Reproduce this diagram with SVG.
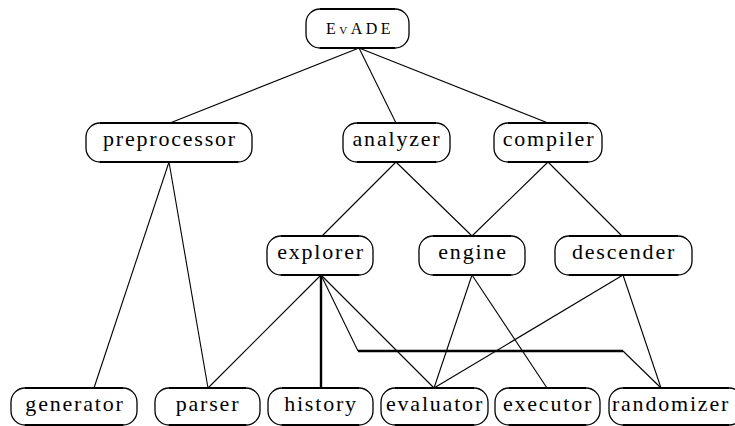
<svg xmlns="http://www.w3.org/2000/svg" width="735" height="426" viewBox="0 0 735 426">
<style>
.box{fill:#fff;stroke:#000;stroke-width:1.3}
.edge{stroke:#000;stroke-width:2.2}
.lbl{font-family:"Liberation Serif","DejaVu Serif",serif;font-size:22px;letter-spacing:1.8px;text-anchor:middle;fill:#000}
.sc{font-size:16px;font-variant:small-caps;letter-spacing:3.5px}
.c{stroke:#000;stroke-width:1.1;fill:none}
.t{stroke:#000;stroke-width:2.4;fill:none}
</style>
<rect width="735" height="426" fill="#fff"/>
<g id="connectors">
<line class="c" x1="359" y1="48" x2="170" y2="123"/>
<line class="c" x1="359" y1="48" x2="396" y2="123"/>
<line class="c" x1="359" y1="48" x2="548" y2="123"/>
<line class="c" x1="396" y1="162" x2="322" y2="236"/>
<line class="c" x1="396" y1="162" x2="472" y2="236"/>
<line class="c" x1="548" y1="162" x2="472" y2="236"/>
<line class="c" x1="548" y1="162" x2="622" y2="236"/>
<line class="c" x1="169" y1="162" x2="94" y2="388"/>
<line class="c" x1="169" y1="162" x2="208" y2="388"/>
<line class="c" x1="321" y1="275" x2="208" y2="388"/>
<line class="t" x1="321" y1="275" x2="321" y2="388"/>
<line class="c" x1="321" y1="275" x2="434" y2="388"/>
<polyline class="c" points="321,275 358,351"/>
<polyline class="t" points="358,351 623,351"/>
<polyline class="c" points="623,351 661,388"/>
<line class="c" x1="472" y1="275" x2="434" y2="388"/>
<line class="c" x1="472" y1="275" x2="547" y2="388"/>
<line class="c" x1="623" y1="275" x2="434" y2="388"/>
<line class="c" x1="623" y1="275" x2="661" y2="388"/>
</g>
<g id="n-evade">
<rect class="box" x="306" y="9" width="103" height="39" rx="14"/>
<line class="edge" x1="320" y1="9" x2="395" y2="9"/><line class="edge" x1="320" y1="48" x2="395" y2="48"/>
<text class="lbl sc" x="360" y="34">EvADE</text>
</g>
<g id="n-preprocessor">
<rect class="box" x="86" y="123" width="166" height="39" rx="14"/>
<line class="edge" x1="100" y1="123" x2="238" y2="123"/><line class="edge" x1="100" y1="162" x2="238" y2="162"/>
<text class="lbl" x="170" y="146">preprocessor</text>
</g>
<g id="n-analyzer">
<rect class="box" x="343" y="123" width="107" height="39" rx="14"/>
<line class="edge" x1="357" y1="123" x2="436" y2="123"/><line class="edge" x1="357" y1="162" x2="436" y2="162"/>
<text class="lbl" x="397" y="146">analyzer</text>
</g>
<g id="n-compiler">
<rect class="box" x="494" y="123" width="108" height="39" rx="14"/>
<line class="edge" x1="508" y1="123" x2="588" y2="123"/><line class="edge" x1="508" y1="162" x2="588" y2="162"/>
<text class="lbl" x="549" y="146">compiler</text>
</g>
<g id="n-explorer">
<rect class="box" x="267" y="236" width="106" height="39" rx="14"/>
<line class="edge" x1="281" y1="236" x2="359" y2="236"/><line class="edge" x1="281" y1="275" x2="359" y2="275"/>
<text class="lbl" x="321" y="259">explorer</text>
</g>
<g id="n-engine">
<rect class="box" x="419" y="236" width="106" height="39" rx="14"/>
<line class="edge" x1="433" y1="236" x2="511" y2="236"/><line class="edge" x1="433" y1="275" x2="511" y2="275"/>
<text class="lbl" x="473" y="259">engine</text>
</g>
<g id="n-descender">
<rect class="box" x="555" y="236" width="137" height="39" rx="14"/>
<line class="edge" x1="569" y1="236" x2="678" y2="236"/><line class="edge" x1="569" y1="275" x2="678" y2="275"/>
<text class="lbl" x="624" y="259">descender</text>
</g>
<g id="n-generator">
<rect class="box" x="11" y="388" width="126" height="37" rx="14"/>
<line class="edge" x1="25" y1="388" x2="123" y2="388"/><line class="edge" x1="25" y1="425" x2="123" y2="425"/>
<text class="lbl" x="75" y="411">generator</text>
</g>
<g id="n-parser">
<rect class="box" x="155" y="388" width="105" height="37" rx="14"/>
<line class="edge" x1="169" y1="388" x2="246" y2="388"/><line class="edge" x1="169" y1="425" x2="246" y2="425"/>
<text class="lbl" x="208" y="411">parser</text>
</g>
<g id="n-history">
<rect class="box" x="268" y="388" width="105" height="37" rx="14"/>
<line class="edge" x1="282" y1="388" x2="359" y2="388"/><line class="edge" x1="282" y1="425" x2="359" y2="425"/>
<text class="lbl" x="321" y="411">history</text>
</g>
<g id="n-evaluator">
<rect class="box" x="381" y="388" width="107" height="37" rx="14"/>
<line class="edge" x1="395" y1="388" x2="474" y2="388"/><line class="edge" x1="395" y1="425" x2="474" y2="425"/>
<text class="lbl" x="435" y="411">evaluator</text>
</g>
<g id="n-executor">
<rect class="box" x="495" y="388" width="105" height="37" rx="14"/>
<line class="edge" x1="509" y1="388" x2="586" y2="388"/><line class="edge" x1="509" y1="425" x2="586" y2="425"/>
<text class="lbl" x="548" y="411">executor</text>
</g>
<g id="n-randomizer">
<rect class="box" x="609" y="388" width="134" height="37" rx="14"/>
<line class="edge" x1="623" y1="388" x2="729" y2="388"/><line class="edge" x1="623" y1="425" x2="729" y2="425"/>
<text class="lbl" x="671" y="411">randomizer</text>
</g>
</svg>
